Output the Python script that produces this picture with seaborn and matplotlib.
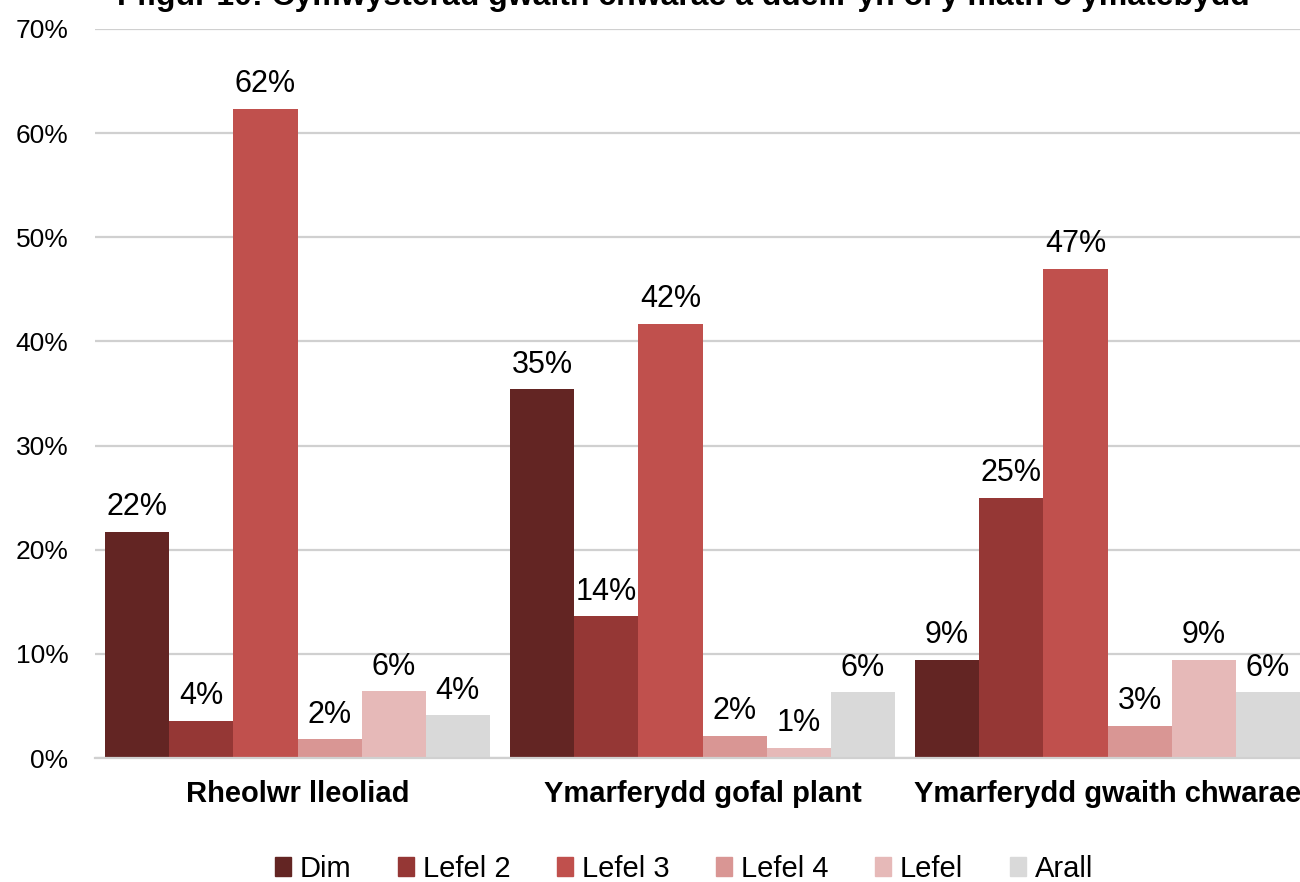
# Ffigur 10: playwork qualifications held, by respondent type
import pandas as pd
import matplotlib
matplotlib.use("Agg")
import matplotlib.pyplot as plt
import seaborn as sns

# data (percent)
roles = ["Rheolwr lleoliad", "Ymarferydd gofal plant", "Ymarferydd gwaith chwarae"]
levels = ["Dim", "Lefel 2", "Lefel 3", "Lefel 4", "Lefel", "Arall"]
dim = [21.7, 35.4, 9.4]
lefel_2 = [3.6, 13.6, 25.0]
lefel_3 = [62.3, 41.7, 47.0]
lefel_4 = [1.8, 2.1, 3.1]
lefel = [6.4, 1.0, 9.4]
arall = [4.1, 6.3, 6.3]
colours = ["#632523", "#953735", "#C0504D", "#D99694", "#E6B9B8", "#D9D9D9"]

title = "Ffigur 10: Cymwysterau gwaith chwarae a ddelir yn ôl y math o ymatebydd"

series = [dim, lefel_2, lefel_3, lefel_4, lefel, arall]
rows = []
for lvl, vals in zip(levels, series):
    for role, v in zip(roles, vals):
        rows.append({"role": role, "level": lvl, "value": v})
df = pd.DataFrame(rows)

sns.set_theme(style="white")
plt.rcParams["font.family"] = ["Liberation Sans", "DejaVu Sans"]
plt.rcParams["text.color"] = "black"
plt.rcParams["xtick.color"] = "black"
plt.rcParams["ytick.color"] = "black"

fig = plt.figure(figsize=(13, 8.82), dpi=100)
ax = fig.add_axes([95 / 1300, 1 - 758 / 882, 1215 / 1300, 729 / 882])

sns.barplot(data=df, x="role", y="value", hue="level", order=roles,
            hue_order=levels, palette=colours, width=0.95, gap=0,
            linewidth=0, saturation=1, ax=ax, legend=False)

for cont in ax.containers:
    ax.bar_label(cont, labels=[f"{b.get_height():.0f}%" for b in cont],
                 padding=7, fontsize=22, color="black")

ax.set_ylim(0, 70)
ax.set_xlim(-0.5, 2.5)
ax.set_yticks(range(0, 71, 10))
ax.set_yticklabels([f"{t}%" for t in range(0, 71, 10)], fontsize=19)
ax.set_xticks(range(len(roles)))
ax.set_xticklabels(roles, fontsize=21, fontweight="bold")
ax.tick_params(axis="y", length=0, pad=19)
ax.tick_params(axis="x", length=0, pad=16)
ax.set_xlabel("")
ax.set_ylabel("")
ax.yaxis.grid(True, color="#D0D0D0", linewidth=1.6)
ax.set_axisbelow(True)
for s in ["left", "right", "top"]:
    ax.spines[s].set_visible(False)
ax.spines["bottom"].set_color("#D0D0D0")
ax.spines["bottom"].set_linewidth(1.6)

handles = [plt.Rectangle((0, 0), 1, 1, color=c) for c in colours]
fig.legend(handles, levels, loc="center", bbox_to_anchor=(0.526, 1 - 869 / 882),
           ncol=6, frameon=False, fontsize=21, handlelength=0.55,
           handleheight=0.6, handletextpad=0.3, columnspacing=1.6)

fig.text(0.526, 1.004, title, ha="center", va="center", fontsize=23,
         fontweight="bold")

fig.savefig("out.png", dpi=100)
